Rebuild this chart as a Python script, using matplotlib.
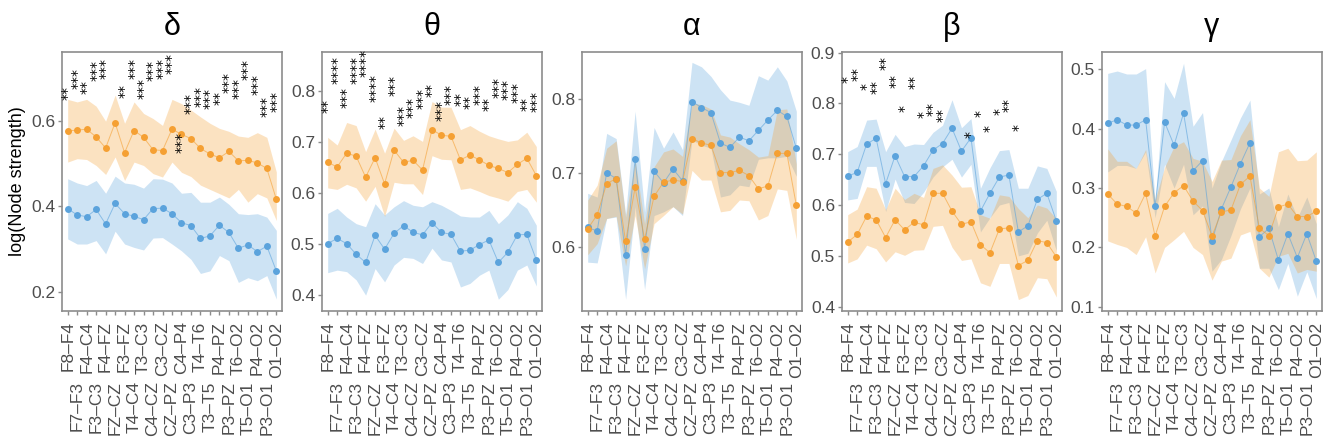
import numpy as np
import matplotlib.pyplot as plt

plt.rcParams['font.family'] = ['Liberation Sans', 'DejaVu Sans']

# electrode pairs (x axis)
pairs = ["F8–F4", "F7–F3", "F4–C4", "F3–C3", "F4–FZ", "FZ–CZ", "F3–FZ", "T4–C4",
         "T3–C3", "C4–CZ", "C3–CZ", "CZ–PZ", "C4–P4", "C3–P3", "T4–T6", "T3–T5",
         "P4–PZ", "P3–PZ", "T6–O2", "T5–O1", "P4–O2", "P3–O1", "O1–O2"]

bands = ["δ", "θ", "α", "β", "γ"]

# ---- delta ----
delta_blue = [0.395, 0.380, 0.376, 0.393, 0.359, 0.407, 0.383, 0.377, 0.369, 0.395, 0.396, 0.383,
              0.362, 0.355, 0.325, 0.331, 0.356, 0.339, 0.302, 0.310, 0.294, 0.307, 0.249]
delta_blue_hi = [0.465, 0.455, 0.449, 0.461, 0.431, 0.471, 0.455, 0.452, 0.443, 0.465, 0.464, 0.455,
                 0.431, 0.433, 0.410, 0.410, 0.422, 0.405, 0.383, 0.381, 0.383, 0.375, 0.344]
delta_blue_lo = [0.324, 0.312, 0.312, 0.320, 0.289, 0.342, 0.312, 0.304, 0.298, 0.326, 0.327, 0.312,
                 0.296, 0.276, 0.243, 0.249, 0.285, 0.273, 0.222, 0.233, 0.226, 0.238, 0.183]
delta_orange = [0.577, 0.579, 0.581, 0.563, 0.537, 0.596, 0.526, 0.578, 0.562, 0.533, 0.531, 0.581,
                0.569, 0.559, 0.536, 0.523, 0.514, 0.529, 0.507, 0.508, 0.502, 0.489, 0.417]
delta_orange_hi = [0.651, 0.645, 0.651, 0.635, 0.600, 0.661, 0.595, 0.645, 0.618, 0.606, 0.590, 0.651,
                   0.641, 0.626, 0.610, 0.595, 0.583, 0.576, 0.565, 0.562, 0.573, 0.562, 0.481]
delta_orange_lo = [0.504, 0.512, 0.510, 0.496, 0.475, 0.516, 0.461, 0.504, 0.496, 0.477, 0.469, 0.504,
                   0.480, 0.470, 0.450, 0.440, 0.430, 0.420, 0.440, 0.410, 0.430, 0.420, 0.367]
delta_star_idx = [0, 1, 2, 3, 4, 6, 7, 8, 9, 10, 11, 12, 13, 14, 15, 16, 17, 18, 19, 20, 21, 22]
delta_star_n = [2, 3, 2, 3, 3, 2, 3, 3, 3, 3, 3, 3, 3, 3, 3, 2, 3, 3, 3, 3, 3, 3]
delta_star_y = [0.665, 0.700, 0.679, 0.718, 0.724, 0.671, 0.724, 0.677, 0.718, 0.724, 0.736, 0.551,
                0.642, 0.657, 0.653, 0.655, 0.690, 0.677, 0.720, 0.685, 0.635, 0.645]

# ---- theta ----
theta_blue = [0.501, 0.511, 0.501, 0.480, 0.464, 0.517, 0.490, 0.521, 0.536, 0.523, 0.518, 0.542,
              0.523, 0.519, 0.486, 0.488, 0.499, 0.508, 0.464, 0.484, 0.518, 0.519, 0.469]
theta_blue_hi = [0.560, 0.570, 0.553, 0.540, 0.534, 0.579, 0.557, 0.573, 0.585, 0.576, 0.573, 0.583,
                 0.576, 0.566, 0.555, 0.553, 0.553, 0.566, 0.540, 0.557, 0.583, 0.570, 0.537]
theta_blue_lo = [0.444, 0.449, 0.446, 0.430, 0.400, 0.452, 0.426, 0.459, 0.474, 0.472, 0.462, 0.492,
                 0.469, 0.465, 0.416, 0.423, 0.439, 0.449, 0.392, 0.411, 0.449, 0.459, 0.418]
theta_orange = [0.660, 0.651, 0.678, 0.672, 0.631, 0.669, 0.618, 0.684, 0.660, 0.664, 0.645, 0.724,
                0.713, 0.711, 0.665, 0.674, 0.665, 0.654, 0.648, 0.640, 0.656, 0.668, 0.634]
theta_orange_hi = [0.709, 0.694, 0.738, 0.732, 0.681, 0.725, 0.678, 0.727, 0.703, 0.712, 0.701, 0.779,
                   0.768, 0.768, 0.724, 0.732, 0.721, 0.712, 0.706, 0.701, 0.704, 0.719, 0.691]
theta_orange_lo = [0.610, 0.607, 0.617, 0.610, 0.584, 0.613, 0.554, 0.621, 0.618, 0.618, 0.597, 0.673,
                   0.666, 0.665, 0.607, 0.610, 0.603, 0.595, 0.590, 0.584, 0.603, 0.607, 0.582]
theta_star_idx = list(range(23))
theta_star_n = [2, 4, 3, 4, 4, 4, 2, 3, 3, 3, 3, 2, 3, 3, 2, 2, 3, 2, 3, 3, 3, 2, 3]
theta_star_y = [0.771, 0.840, 0.786, 0.841, 0.854, 0.805, 0.738, 0.811, 0.752, 0.768, 0.784, 0.801,
                0.762, 0.793, 0.784, 0.779, 0.793, 0.775, 0.806, 0.803, 0.797, 0.775, 0.780]

# ---- alpha ----
alpha_blue = [0.626, 0.621, 0.700, 0.692, 0.589, 0.718, 0.597, 0.702, 0.686, 0.705, 0.689, 0.796,
              0.788, 0.781, 0.740, 0.734, 0.748, 0.743, 0.757, 0.771, 0.784, 0.776, 0.733]
alpha_blue_hi = [0.672, 0.667, 0.753, 0.746, 0.644, 0.783, 0.647, 0.761, 0.733, 0.755, 0.731, 0.849,
                 0.843, 0.830, 0.812, 0.798, 0.795, 0.791, 0.831, 0.825, 0.843, 0.824, 0.783]
alpha_blue_lo = [0.579, 0.578, 0.638, 0.640, 0.529, 0.654, 0.542, 0.642, 0.647, 0.654, 0.642, 0.744,
                 0.737, 0.733, 0.667, 0.670, 0.683, 0.681, 0.718, 0.720, 0.720, 0.722, 0.695]
alpha_orange = [0.624, 0.643, 0.685, 0.692, 0.607, 0.680, 0.610, 0.668, 0.687, 0.690, 0.688, 0.746,
                0.740, 0.737, 0.700, 0.700, 0.703, 0.696, 0.678, 0.682, 0.726, 0.726, 0.656]
alpha_orange_hi = [0.663, 0.683, 0.733, 0.743, 0.640, 0.717, 0.631, 0.708, 0.728, 0.732, 0.722, 0.794,
                   0.792, 0.786, 0.751, 0.748, 0.739, 0.731, 0.721, 0.723, 0.785, 0.786, 0.712]
alpha_orange_lo = [0.589, 0.604, 0.638, 0.641, 0.574, 0.642, 0.570, 0.631, 0.642, 0.654, 0.644, 0.703,
                   0.690, 0.690, 0.647, 0.649, 0.663, 0.662, 0.636, 0.642, 0.678, 0.676, 0.610]

# ---- beta ----
beta_blue = [0.657, 0.664, 0.720, 0.731, 0.642, 0.697, 0.656, 0.656, 0.677, 0.708, 0.721, 0.751,
             0.706, 0.732, 0.588, 0.623, 0.655, 0.659, 0.547, 0.559, 0.611, 0.623, 0.569]
beta_blue_hi = [0.705, 0.715, 0.767, 0.769, 0.705, 0.739, 0.715, 0.720, 0.719, 0.743, 0.757, 0.807,
                0.752, 0.770, 0.633, 0.673, 0.707, 0.709, 0.633, 0.633, 0.677, 0.672, 0.627]
beta_blue_lo = [0.610, 0.613, 0.676, 0.676, 0.587, 0.651, 0.605, 0.603, 0.625, 0.655, 0.675, 0.690,
                0.655, 0.680, 0.547, 0.575, 0.600, 0.605, 0.500, 0.505, 0.545, 0.570, 0.510]
beta_orange = [0.527, 0.542, 0.578, 0.571, 0.536, 0.571, 0.551, 0.566, 0.561, 0.623, 0.623, 0.588,
               0.562, 0.567, 0.522, 0.506, 0.553, 0.555, 0.481, 0.491, 0.530, 0.526, 0.498]
beta_orange_hi = [0.581, 0.592, 0.636, 0.633, 0.591, 0.633, 0.611, 0.623, 0.615, 0.672, 0.679, 0.659,
                  0.635, 0.636, 0.581, 0.574, 0.620, 0.617, 0.593, 0.575, 0.600, 0.594, 0.573]
beta_orange_lo = [0.486, 0.494, 0.521, 0.514, 0.488, 0.508, 0.501, 0.511, 0.512, 0.558, 0.560, 0.517,
                  0.491, 0.494, 0.447, 0.440, 0.485, 0.485, 0.414, 0.422, 0.457, 0.455, 0.419]
beta_star_idx = [0, 1, 2, 3, 4, 5, 6, 7, 8, 9, 10, 13, 14, 15, 16, 17, 18]
beta_star_n = [1, 2, 1, 2, 2, 2, 1, 2, 1, 2, 2, 1, 1, 1, 1, 2, 1]
beta_star_y = [0.846, 0.857, 0.833, 0.832, 0.880, 0.844, 0.789, 0.842, 0.779, 0.788, 0.778,
               0.739, 0.780, 0.750, 0.784, 0.796, 0.753]

# ---- gamma ----
gamma_blue = [0.409, 0.415, 0.406, 0.406, 0.415, 0.269, 0.411, 0.372, 0.426, 0.329, 0.346, 0.211,
              0.265, 0.302, 0.341, 0.376, 0.218, 0.232, 0.179, 0.223, 0.183, 0.223, 0.177]
gamma_blue_hi = [0.493, 0.497, 0.492, 0.492, 0.501, 0.277, 0.479, 0.451, 0.510, 0.404, 0.427, 0.300,
                 0.345, 0.381, 0.418, 0.448, 0.290, 0.300, 0.235, 0.290, 0.250, 0.285, 0.240]
gamma_blue_lo = [0.327, 0.338, 0.338, 0.333, 0.361, 0.250, 0.340, 0.300, 0.340, 0.255, 0.270, 0.160,
                 0.180, 0.220, 0.265, 0.300, 0.165, 0.165, 0.129, 0.173, 0.118, 0.159, 0.114]
gamma_orange = [0.290, 0.273, 0.269, 0.258, 0.291, 0.219, 0.269, 0.292, 0.304, 0.278, 0.262, 0.219,
                0.260, 0.263, 0.306, 0.320, 0.232, 0.220, 0.268, 0.273, 0.252, 0.252, 0.261]
gamma_orange_hi = [0.366, 0.345, 0.345, 0.333, 0.365, 0.280, 0.335, 0.370, 0.378, 0.350, 0.345, 0.311,
                   0.347, 0.348, 0.388, 0.415, 0.300, 0.286, 0.361, 0.367, 0.346, 0.347, 0.361]
gamma_orange_lo = [0.211, 0.205, 0.200, 0.188, 0.218, 0.157, 0.200, 0.213, 0.227, 0.200, 0.188, 0.145,
                   0.177, 0.182, 0.221, 0.227, 0.165, 0.150, 0.185, 0.190, 0.157, 0.163, 0.160]

panels = [
    (delta_blue, delta_blue_lo, delta_blue_hi, delta_orange, delta_orange_lo, delta_orange_hi,
     (delta_star_idx, delta_star_n, delta_star_y), (0.155, 0.762), [0.2, 0.4, 0.6]),
    (theta_blue, theta_blue_lo, theta_blue_hi, theta_orange, theta_orange_lo, theta_orange_hi,
     (theta_star_idx, theta_star_n, theta_star_y), (0.369, 0.876), [0.4, 0.5, 0.6, 0.7, 0.8]),
    (alpha_blue, alpha_blue_lo, alpha_blue_hi, alpha_orange, alpha_orange_lo, alpha_orange_hi,
     None, (0.513, 0.863), [0.6, 0.7, 0.8]),
    (beta_blue, beta_blue_lo, beta_blue_hi, beta_orange, beta_orange_lo, beta_orange_hi,
     (beta_star_idx, beta_star_n, beta_star_y), (0.3915, 0.901), [0.4, 0.5, 0.6, 0.7, 0.8, 0.9]),
    (gamma_blue, gamma_blue_lo, gamma_blue_hi, gamma_orange, gamma_orange_lo, gamma_orange_hi,
     None, (0.093, 0.529), [0.1, 0.2, 0.3, 0.4, 0.5]),
]

blue = "#5ba3dc"
orange = "#f5a033"
grey = "#4d4d4d"
frame = "#8c8c8c"

W, H = 1325, 442
fig = plt.figure(figsize=(W / 100, H / 100), dpi=100)
x = np.arange(len(pairs))

for k, (bm, bl, bh, om, ol, oh, stars, ylim, yticks) in enumerate(panels):
    left = 62 + 260 * k
    ax = fig.add_axes([left / W, 1 - 311 / H, 220 / W, 259 / H])

    ax.fill_between(x, bl, bh, color=blue, alpha=0.3, lw=0)
    ax.plot(x, bm, color=blue, lw=0.7, alpha=0.6)
    ax.plot(x, bm, 'o', color=blue, ms=5, mew=0)
    ax.fill_between(x, ol, oh, color=orange, alpha=0.3, lw=0)
    ax.plot(x, om, color=orange, lw=0.7, alpha=0.6)
    ax.plot(x, om, 'o', color=orange, ms=5, mew=0)

    if stars is not None:
        for i, n, yy in zip(*stars):
            ax.text(i, yy, "*" * n, rotation=90, ha='center', va='center',
                    fontsize=10, family='DejaVu Sans', color='black', clip_on=False)

    ax.set_xlim(-0.6, len(pairs) - 0.4)
    ax.set_ylim(*ylim)
    ax.set_yticks(yticks)
    ax.set_yticklabels([f"{t:.1f}" for t in yticks])

    ax.set_xticks(x[::2])
    ax.set_xticklabels(pairs[::2], rotation=90)
    ax.set_xticks(x[1::2], minor=True)
    ax.set_xticklabels(pairs[1::2], minor=True, rotation=90)
    ax.tick_params(axis='x', which='major', length=3, width=1, pad=4.5,
                   color=frame, labelcolor=grey, labelsize=12.5)
    ax.tick_params(axis='x', which='minor', length=3, width=1, pad=47.5,
                   color=frame, labelcolor=grey, labelsize=12.5)
    ax.tick_params(axis='y', length=3, width=1, pad=2,
                   color=frame, labelcolor=grey, labelsize=12.5)

    for s in ax.spines.values():
        s.set_color(frame)
        s.set_linewidth(1.2)

    ax.set_title(bands[k], fontsize=22, pad=12)

fig.text(18 / W, 1 - 181 / H, "log(Node strength)", rotation=90,
         ha='center', va='center', fontsize=13)

fig.savefig("out.png", dpi=100)
